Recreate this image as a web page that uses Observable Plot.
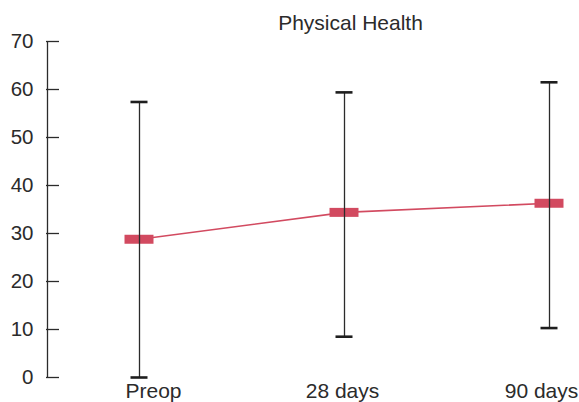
<!DOCTYPE html>
<html>
<head>
<meta charset="utf-8">
<script src="https://cdn.jsdelivr.net/npm/d3@7"></script>
<script src="https://cdn.jsdelivr.net/npm/@observablehq/plot@0.6"></script>
<style>
  html, body { margin: 0; padding: 0; background: #fff; }
  svg { display: block; }
</style>
</head>
<body>
<div id="chart"></div>
<script>
const categories = ["Preop", "28 days", "90 days"];
const means = [28.8, 34.4, 36.3];
const lower = [0, 8.5, 10.3];
const upper = [57.4, 59.4, 61.5];
const yTicks = [0, 10, 20, 30, 40, 50, 60, 70];
const title = "Physical Health";

const data = categories.map((c, i) => ({cat: c, mean: means[i], lo: lower[i], hi: upper[i]}));

const red = "#d24a60";
const ink = "#2b2b2b";
const labelShift = {"Preop": 14, "28 days": -2, "90 days": -8};

const W = 579, H = 402, mL = 46, mR = 30;

const chart = Plot.plot({
  width: W,
  height: H,
  marginTop: 41,
  marginBottom: 25,
  marginLeft: mL,
  marginRight: mR,
  style: {fontFamily: "'Liberation Sans', Arial, Helvetica, sans-serif", fontSize: "20px", color: ink, background: "#fff", overflow: "visible"},
  x: {type: "point", domain: categories, padding: 0, insetLeft: 92, axis: null},
  y: {domain: [0, 70], axis: null},
  marks: [
    // y axis line
    Plot.ruleX([categories[0]], {x: d => d, y1: 0, y2: 70, dx: -92, stroke: ink, strokeWidth: 1.3}),
    // inward ticks
    Plot.ruleY(yTicks, {y: d => d, insetRight: (W - mL - mR) - 13, stroke: ink, strokeWidth: 1.3}),
    // y tick labels
    Plot.axisY({ticks: yTicks, tickSize: 0, tickPadding: 13, fontSize: 20.5, fill: ink}),
    // connecting line
    Plot.line(data, {x: "cat", y: "mean", stroke: red, strokeWidth: 1.6}),
    // mean markers
    Plot.ruleY(data, {x1: "cat", x2: "cat", y: "mean", stroke: red, strokeWidth: 9, insetLeft: -14.5, insetRight: -14.5}),
    // error bars
    Plot.ruleX(data, {x: "cat", y1: "lo", y2: "hi", stroke: ink, strokeWidth: 1.3}),
    Plot.ruleY(data, {x1: "cat", x2: "cat", y: "hi", stroke: "#1e1e1e", strokeWidth: 2.6, insetLeft: -8.5, insetRight: -8.5}),
    Plot.ruleY(data, {x1: "cat", x2: "cat", y: "lo", stroke: "#1e1e1e", strokeWidth: 2.6, insetLeft: -8.5, insetRight: -8.5}),
    // x labels
    ...categories.map(c => Plot.text([c], {x: d => d, frameAnchor: "bottom", lineAnchor: "top", dy: 6, dx: labelShift[c], fontSize: 21, fill: ink})),
    // title
    Plot.text([title], {x: () => categories[1], frameAnchor: "top", dy: -26, dx: 6, fontSize: 21, fill: ink})
  ]
});

document.getElementById("chart").appendChild(chart);
</script>
</body>
</html>
